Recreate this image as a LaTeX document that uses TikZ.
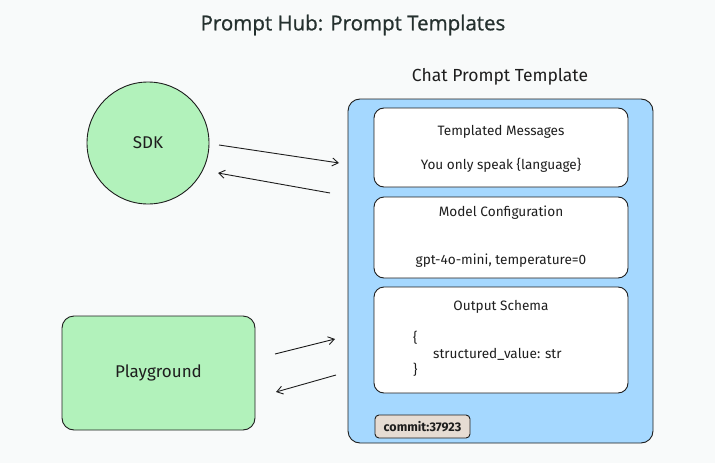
\documentclass[tikz,border=0pt]{standalone}
\usepackage{fontspec}
\setmainfont{Fira Sans}
\newfontfamily\titlefont[FakeBold=0.8]{Open Sans}
\usetikzlibrary{arrows.meta}
\definecolor{bgc}{HTML}{F8FAFA}
\definecolor{bluef}{HTML}{A5D8FF}
\definecolor{greenf}{HTML}{B2F2BB}
\definecolor{commitf}{HTML}{E6DCD3}
\definecolor{inkc}{HTML}{1E1E1E}
\definecolor{titlec}{HTML}{24302E}
\tikzset{
  ink/.style={draw=inkc, line width=0.9pt},
  card/.style={ink, fill=white, rounded corners=10pt},
  txt/.style={inner sep=0pt, text=inkc, font=\fontsize{13.6}{16}\selectfont},
  conn/.style={draw=inkc, line width=0.9pt, -{Straight Barb[length=6pt,width=8pt]}},
}
\begin{document}
\begin{tikzpicture}[x=1pt,y=-1pt]
\fill[bgc] (0,0) rectangle (715,463);
\useasboundingbox (0,0) rectangle (715,463);
\node[inner sep=0pt, text=titlec, font=\titlefont\fontsize{20.5}{24}\selectfont] (title) at (353,25) {Prompt Hub: Prompt Templates};
\node[txt, font=\fontsize{17.5}{20}\selectfont] (cpt) at (500,77) {Chat Prompt Template};
% container
\draw[ink, fill=bluef, rounded corners=12pt] (348,99) rectangle (653,443);
% cards
\draw[card] (374,108) rectangle (628,187);
\node[txt] (tm) at (501,132) {Templated Messages};
\node[txt] (tmv) at (501,165) {You only speak \{language\}};
\draw[card] (374,197) rectangle (628,278);
\node[txt] (mc) at (501,213) {Model Configuration};
\node[txt] (mcv) at (501,261) {gpt-4o-mini, temperature=0};
\draw[card] (374,287) rectangle (628,393);
\node[txt] (os) at (501,307) {Output Schema};
\node[txt, anchor=west] (ob1) at (413,338) {\{};
\node[txt, anchor=west] (ov) at (433,354) {structured\_value: str};
\node[txt, anchor=west] (ob2) at (413,370) {\}};
\node[ink, fill=commitf, rounded corners=4pt, minimum width=95pt, minimum height=23pt, inner sep=0pt, text=inkc, font=\bfseries\fontsize{12.5}{14}\selectfont] (commit) at (422.5,426.5) {commit:37923};
% left nodes
\node[ink, circle, fill=greenf, minimum size=122pt, inner sep=0pt, text=inkc, font=\fontsize{17}{20}\selectfont] (sdk) at (148,143) {SDK};
\node[ink, fill=greenf, rounded corners=12pt, minimum width=193pt, minimum height=114pt, inner sep=0pt, text=inkc, font=\fontsize{17}{20}\selectfont] (pg) at (158.5,373) {Playground};
% connector end points
\coordinate (a1s) at (219,145); \coordinate (a1e) at (339,163);
\coordinate (a2s) at (330,193); \coordinate (a2e) at (218,173);
\coordinate (b1s) at (275,354); \coordinate (b1e) at (335,339);
\coordinate (b2s) at (336,375); \coordinate (b2e) at (276,392);
\draw[conn] (a1s) -- (a1e);
\draw[conn] (a2s) -- (a2e);
\draw[conn] (b1s) -- (b1e);
\draw[conn] (b2s) -- (b2e);
\end{tikzpicture}
\end{document}
